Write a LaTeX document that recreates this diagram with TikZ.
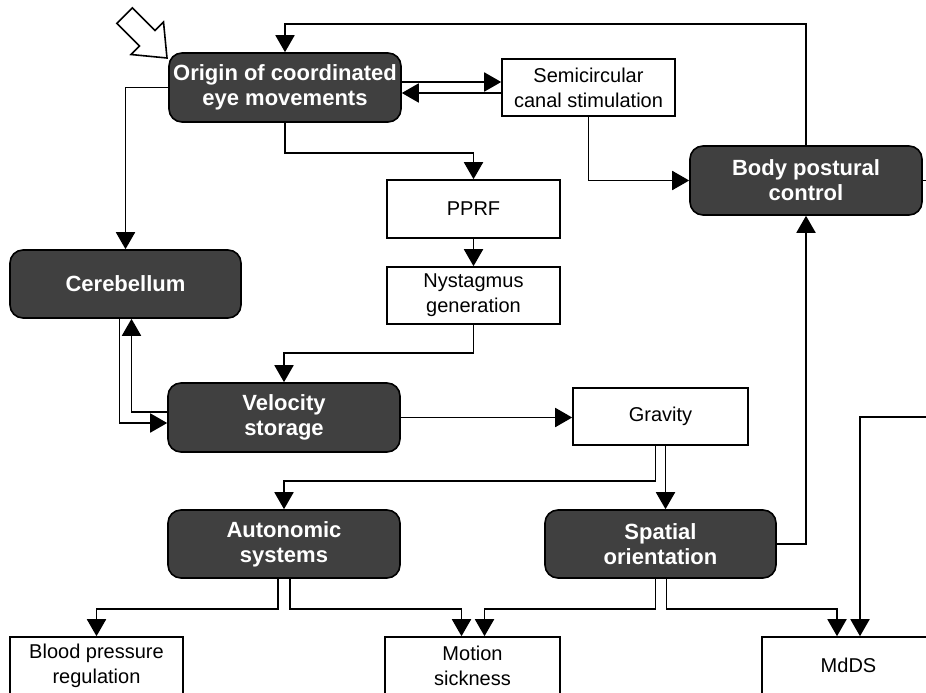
\documentclass[tikz,border=0pt]{standalone}
\usepackage{fontspec}
\setmainfont{Liberation Sans}
\usetikzlibrary{arrows.meta,calc}
\definecolor{boxdark}{RGB}{64,64,64}
\begin{document}
\begin{tikzpicture}[x=1pt,y=-1pt,
  line width=1.9pt,
  darkbox/.style={draw=black,line width=1.6pt,fill=boxdark,rounded corners=13pt,
    text=white,align=center,inner sep=0pt,
    font=\fontsize{22}{25}\selectfont\bfseries},
  plainbox/.style={draw=black,line width=1.6pt,fill=white,align=center,inner sep=0pt,
    font=\fontsize{20}{25}\selectfont},
  wide/.style={minimum width=232pt,minimum height=69pt},
  narrow/.style={minimum width=173pt,minimum height=57pt},
  arr/.style={-{Triangle[length=17pt,width=19pt]}}]
\clip (0,0) rectangle (926,693);
\fill[white] (0,0) rectangle (926,693);

% dark process boxes
\node[darkbox,wide] (origin) at (285,87.5) {Origin of coordinated\\eye movements};
\node[darkbox,wide] (body)   at (806,180.5) {Body postural\\control};
\node[darkbox,minimum width=231pt,minimum height=68pt] (cereb) at (125.5,284) {Cerebellum};
\node[darkbox,wide] (velo)   at (284,417.5) {Velocity\\storage};
\node[darkbox,minimum width=232pt,minimum height=68pt] (auto) at (284,544) {Autonomic\\systems};
\node[darkbox,minimum width=231pt,minimum height=68pt] (spat) at (660.5,544) {Spatial\\orientation};

% plain boxes
\node[plainbox,narrow] (semi)   at (588.5,87.5) {Semicircular\\canal stimulation};
\node[plainbox,minimum width=173pt,minimum height=58pt] (pprf) at (473.5,209) {PPRF};
\node[plainbox,narrow] (nyst)   at (473.5,295.5) {Nystagmus\\generation};
\node[plainbox,minimum width=175pt,minimum height=57pt] (grav) at (660.5,416.5) {Gravity};
\node[plainbox,narrow] (blood)  at (96.5,665.5) {Blood pressure\\regulation};
\node[plainbox,minimum width=175pt,minimum height=57pt] (motion) at (472.5,665.5) {Motion\\sickness};
\node[plainbox,narrow] (mdds)   at (848.5,665.5) {MdDS};

% free ends leaving the frame
\coordinate (bodyout) at (930,180.5);
\coordinate (mddsin)  at (930,417);

% hollow entry arrow
\draw[line width=1.6pt,fill=white] (116.8,23.4) -- (132.4,7.8) -- (155,30.4) -- (163.5,21.9)
  -- (167,58) -- (130.9,54.5) -- (139.4,46) -- cycle;

% connectors
\draw[arr] (body.north) -- (body.north |- 0,24) -| (origin.north);
\draw[arr] (origin.east |- 0,82) -- (semi.west |- 0,82);
\draw[arr] (semi.west |- 0,93) -- (origin.east |- 0,93);
\draw[arr] (semi.south) |- (body.west);
\draw (body.east) -- (bodyout);
\draw[arr] (origin.west) -| (cereb.north);
\draw[arr] (origin.south) -- ++(0,30) -| (pprf.north);
\draw[arr] (pprf.south) -- (nyst.north);
\draw[arr] (nyst.south) -- ++(0,28) -| (velo.north);
\draw[arr] ($(cereb.south)+(-6,0)$) |- (velo.west |- 0,423);
\draw[arr] (velo.west |- 0,412) -| ($(cereb.south)+(6,0)$);
\draw[arr] (velo.east) -- (velo.east -| grav.west);
\draw[arr] ($(grav.south)+(-5,0)$) -- ++(0,35) -| (auto.north);
\draw[arr] ($(grav.south)+(5,0)$) -- ($(spat.north)+(5,0)$);
\draw[arr] (spat.east) -| (body.south);
\draw[arr] ($(auto.south)+(-6,0)$) -- ++(0,30) -| (blood.north);
\draw[arr] ($(auto.south)+(6,0)$) -- ++(0,30) -| ($(motion.north)+(-11,0)$);
\draw[arr] ($(spat.south)+(-5,0)$) -- ++(0,30) -| ($(motion.north)+(12,0)$);
\draw[arr] ($(spat.south)+(6,0)$) -- ++(0,30) -| ($(mdds.north)+(-11.5,0)$);
\draw[arr] (mddsin) -| ($(mdds.north)+(11.5,0)$);
\end{tikzpicture}
\end{document}
